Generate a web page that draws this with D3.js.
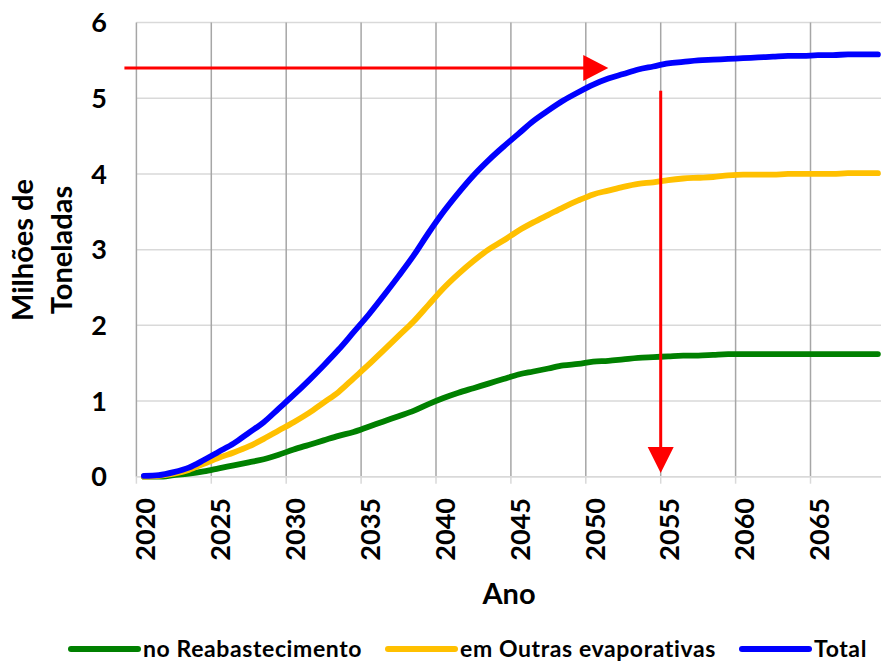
<!DOCTYPE html>
<html>
<head>
<meta charset="utf-8">
<script src="https://cdn.jsdelivr.net/npm/d3@7"></script>
<style>
  html, body { margin: 0; padding: 0; background: #fff; }
  svg { display: block; font-family: Lato, "Open Sans", sans-serif; font-weight: bold; }
</style>
</head>
<body>
<svg id="chart" width="881" height="663"></svg>
<script>
// ---------- data ----------
const years = d3.range(2020, 2070);
const tickYears = [2020, 2025, 2030, 2035, 2040, 2045, 2050, 2055, 2060, 2065];
const yTicks = [0, 1, 2, 3, 4, 5, 6];

const reabastecimento = [
  0.00, 0.00, 0.02, 0.04, 0.07, 0.11, 0.15, 0.19, 0.23, 0.29,
  0.36, 0.42, 0.48, 0.54, 0.59, 0.66, 0.73, 0.80, 0.87, 0.96,
  1.04, 1.11, 1.17, 1.23, 1.29, 1.35, 1.39, 1.43, 1.47, 1.49,
  1.52, 1.53, 1.55, 1.57, 1.58, 1.59, 1.60, 1.60, 1.61, 1.62,
  1.62, 1.62, 1.62, 1.62, 1.62, 1.62, 1.62, 1.62, 1.62, 1.62
];
const outrasEvaporativas = [
  0.00, 0.01, 0.04, 0.09, 0.17, 0.25, 0.32, 0.40, 0.50, 0.61,
  0.72, 0.84, 0.98, 1.12, 1.30, 1.48, 1.67, 1.86, 2.05, 2.27,
  2.49, 2.68, 2.85, 3.00, 3.12, 3.25, 3.36, 3.46, 3.56, 3.65,
  3.73, 3.78, 3.83, 3.87, 3.89, 3.92, 3.94, 3.95, 3.96, 3.98,
  3.99, 3.99, 3.99, 4.00, 4.00, 4.00, 4.00, 4.01, 4.01, 4.01
];
const total = [
  0.01, 0.02, 0.06, 0.12, 0.22, 0.33, 0.44, 0.58, 0.72, 0.90,
  1.08, 1.27, 1.47, 1.68, 1.91, 2.14, 2.39, 2.65, 2.92, 3.22,
  3.50, 3.75, 3.98, 4.18, 4.36, 4.53, 4.70, 4.84, 4.97, 5.08,
  5.18, 5.26, 5.32, 5.38, 5.42, 5.46, 5.48, 5.50, 5.51, 5.52,
  5.53, 5.54, 5.55, 5.56, 5.56, 5.57, 5.57, 5.58, 5.58, 5.58
];
const seriesNames = ["no Reabastecimento", "em Outras evaporativas", "Total"];
const seriesColors = ["#008000", "#ffc000", "#0000ff"];
const seriesValues = [reabastecimento, outrasEvaporativas, total];

// annotation arrows (data coordinates)
const arrowH = { value: 5.4, fromYear: 2018.7, toYear: 2051.0 };
const arrowV = { year: 2054.5, fromValue: 5.1, toValue: 0.05 };

// ---------- layout ----------
const svg = d3.select("#chart");
const left = 136.4, stepPx = 14.98;
const x = d3.scaleLinear().domain([2019.5, 2069.5]).range([left, left + 50 * stepPx]);
const y = d3.scaleLinear().domain([0, 6]).range([476.7, 22.6]);
const plotRight = 881;

// horizontal gridlines
svg.append("g").selectAll("line").data(yTicks).join("line")
  .attr("x1", left).attr("x2", plotRight)
  .attr("y1", d => y(d)).attr("y2", d => y(d))
  .attr("stroke", "#d9d9d9").attr("stroke-width", 1.5);

// vertical gridlines (category boundaries)
svg.append("g").selectAll("line").data(tickYears).join("line")
  .attr("x1", d => x(d - 0.5)).attr("x2", d => x(d - 0.5))
  .attr("y1", y(6)).attr("y2", y(0))
  .attr("stroke", "#a6a6a6").attr("stroke-width", 1.5);

// x axis line + ticks
svg.append("line").attr("x1", left).attr("x2", plotRight)
  .attr("y1", y(0)).attr("y2", y(0)).attr("stroke", "#d9d9d9").attr("stroke-width", 1.5);
svg.append("g").selectAll("line").data(tickYears).join("line")
  .attr("x1", d => x(d - 0.5)).attr("x2", d => x(d - 0.5))
  .attr("y1", y(0)).attr("y2", y(0) + 7)
  .attr("stroke", "#d9d9d9").attr("stroke-width", 1.5);

// y tick labels
svg.append("g").selectAll("text").data(yTicks).join("text")
  .attr("x", 107).attr("y", d => y(d))
  .attr("dy", "0.36em")
  .attr("text-anchor", "end")
  .attr("font-size", 27).attr("fill", "#000")
  .text(d => d);

// x tick labels (rotated)
svg.append("g").selectAll("text").data(tickYears).join("text")
  .attr("transform", d => `translate(${x(d) + 1.5},498) rotate(-90)`)
  .attr("dy", "0.36em")
  .attr("text-anchor", "end")
  .attr("font-size", 27).attr("fill", "#000")
  .text(d => d);

// axis titles
svg.append("text").attr("x", 509).attr("y", 604)
  .attr("text-anchor", "middle").attr("font-size", 29).attr("fill", "#000").text("Ano");
const yt = svg.append("text").attr("transform", "translate(0,250) rotate(-90)")
  .attr("text-anchor", "middle").attr("font-size", 29).attr("fill", "#000");
yt.append("tspan").attr("x", 0).attr("y", 33).text("Milhões de");
yt.append("tspan").attr("x", 0).attr("y", 72).text("Toneladas");

// series lines
const line = d3.line()
  .x((d, i) => x(years[i]))
  .y(d => y(d))
  .curve(d3.curveMonotoneX);
svg.append("g").selectAll("path").data(seriesValues).join("path")
  .attr("d", d => line(d))
  .attr("fill", "none")
  .attr("stroke", (d, i) => seriesColors[i])
  .attr("stroke-width", 5.8)
  .attr("stroke-linecap", "round")
  .attr("stroke-linejoin", "round");

// red arrows
const red = "#ff0000";
const hy = y(arrowH.value), hx0 = x(arrowH.fromYear), hx1 = x(arrowH.toYear);
svg.append("line").attr("x1", hx0).attr("x2", hx1 - 24).attr("y1", hy).attr("y2", hy)
  .attr("stroke", red).attr("stroke-width", 3);
svg.append("path")
  .attr("d", `M${hx1 - 25},${hy - 13} L${hx1},${hy} L${hx1 - 25},${hy + 13} Z`)
  .attr("fill", red);
const vx = x(arrowV.year), vy0 = y(arrowV.fromValue), vy1 = y(arrowV.toValue);
svg.append("line").attr("x1", vx).attr("x2", vx).attr("y1", vy0).attr("y2", vy1 - 24)
  .attr("stroke", red).attr("stroke-width", 3);
svg.append("path")
  .attr("d", `M${vx - 13},${vy1 - 26} L${vx},${vy1} L${vx + 13},${vy1 - 26} Z`)
  .attr("fill", red);

// legend
const legendX = [71, 388, 742];
const lg = svg.append("g").selectAll("g").data(seriesNames).join("g")
  .attr("transform", (d, i) => `translate(${legendX[i]},649)`);
lg.append("line").attr("x1", 0).attr("x2", 67).attr("y1", 0).attr("y2", 0)
  .attr("stroke", (d, i) => seriesColors[i]).attr("stroke-width", 6)
  .attr("stroke-linecap", "round");
lg.append("text").attr("x", 72).attr("y", 8)
  .attr("font-size", 23).attr("letter-spacing", 0.6).attr("fill", "#000")
  .text(d => d);
</script>
</body>
</html>
